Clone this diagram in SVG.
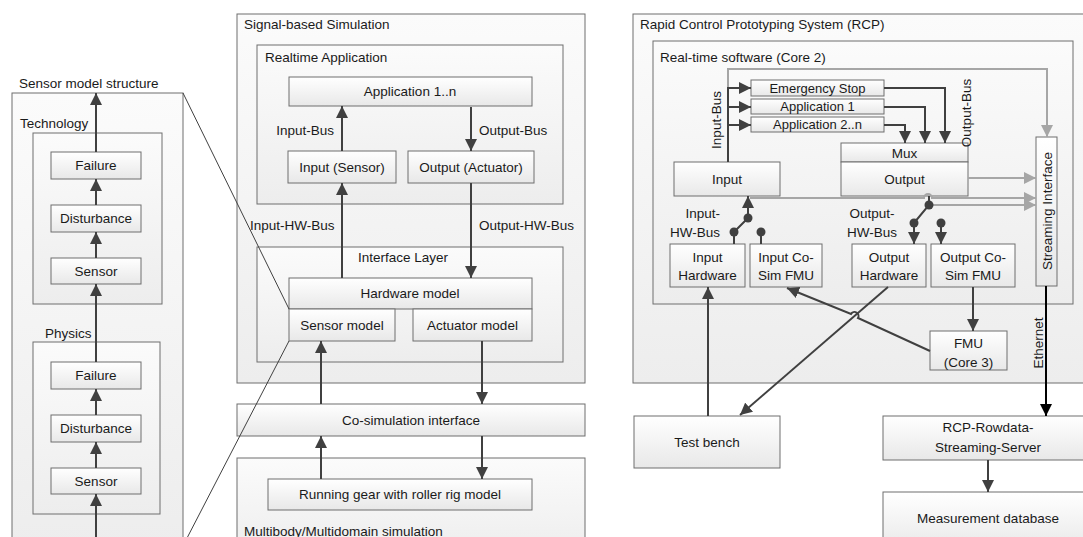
<svg xmlns="http://www.w3.org/2000/svg" width="1083" height="537" viewBox="0 0 1083 537">
<style>
text{font-family:"Liberation Sans",Arial,sans-serif;font-size:13.5px;fill:#1a1a1a}
.c{text-anchor:middle;dominant-baseline:central}
.l{dominant-baseline:central}
.sm{font-size:13px}
.box{fill:url(#gBox);stroke:#6e6e6e;stroke-width:1}
.cont{fill:url(#gCont);stroke:#6e6e6e;stroke-width:1}
.ln{fill:none;stroke:#404040;stroke-width:2}
.thin{fill:none;stroke:#404040;stroke-width:1}
.gr{fill:none;stroke:#a6a6a6;stroke-width:2}
.dot{fill:#404040}
</style>
<defs>
<linearGradient id="gBox" x1="0" y1="0" x2="0" y2="1"><stop offset="0" stop-color="#ffffff"/><stop offset="1" stop-color="#e8e8e8"/></linearGradient>
<linearGradient id="gCont" x1="0" y1="0" x2="0" y2="1"><stop offset="0" stop-color="#fbfbfb"/><stop offset="1" stop-color="#ededed"/></linearGradient>
<marker id="a" markerUnits="userSpaceOnUse" markerWidth="12" markerHeight="12" viewBox="0 0 12 12" refX="12" refY="6" orient="auto"><path d="M0,0 L12,6 L0,12 Z" fill="#404040"/></marker>
<marker id="ag" markerUnits="userSpaceOnUse" markerWidth="12" markerHeight="12" viewBox="0 0 12 12" refX="12" refY="6" orient="auto"><path d="M0,0 L12,6 L0,12 Z" fill="#a6a6a6"/></marker>
<marker id="ak" markerUnits="userSpaceOnUse" markerWidth="12" markerHeight="12" viewBox="0 0 12 12" refX="12" refY="6" orient="auto"><path d="M0,0 L12,6 L0,12 Z" fill="#000"/></marker>
</defs>
<rect width="1083" height="537" fill="#fff"/>

<!-- Left panel: sensor model structure -->
<g id="sensor-model-structure">
<text x="19" y="83" class="l">Sensor model structure</text>
<rect class="cont" x="12" y="93" width="171" height="460"/>
</g>
<g id="technology">
<text x="20" y="123" class="l">Technology</text>
<rect class="cont" x="33" y="133" width="129" height="171"/>
</g>
<g id="tech-failure"><rect class="box" x="51" y="152" width="90" height="27"/><text x="96" y="165.5" class="c">Failure</text></g>
<g id="tech-disturbance"><rect class="box" x="51" y="205" width="90" height="27"/><text x="96" y="218.5" class="c">Disturbance</text></g>
<g id="tech-sensor"><rect class="box" x="51" y="258" width="90" height="26"/><text x="96" y="271" class="c">Sensor</text></g>
<g id="physics">
<text x="45" y="333" class="l">Physics</text>
<rect class="cont" x="33" y="342" width="127" height="172"/>
</g>
<g id="phys-failure"><rect class="box" x="51" y="362" width="90" height="27"/><text x="96" y="375.5" class="c">Failure</text></g>
<g id="phys-disturbance"><rect class="box" x="51" y="415" width="90" height="27"/><text x="96" y="428.5" class="c">Disturbance</text></g>
<g id="phys-sensor"><rect class="box" x="51" y="468" width="90" height="26"/><text x="96" y="481" class="c">Sensor</text></g>

<!-- Middle panel -->
<g id="signal-based-simulation">
<rect class="cont" x="237" y="14" width="348" height="369"/>
<text x="244" y="24" class="l">Signal-based Simulation</text>
</g>
<g id="realtime-application">
<rect class="cont" x="257" y="45" width="306" height="159"/>
<text x="265" y="57" class="l">Realtime Application</text>
</g>
<g id="application-1n"><rect class="box" x="289" y="77" width="243" height="29"/><text x="410" y="91.5" class="c">Application 1..n</text></g>
<g id="input-sensor"><rect class="box" x="288" y="151" width="108" height="32"/><text x="342" y="167" class="c">Input (Sensor)</text></g>
<g id="output-actuator"><rect class="box" x="408" y="151" width="126" height="32"/><text x="471" y="167" class="c">Output (Actuator)</text></g>
<g id="interface-layer">
<rect class="cont" x="257" y="247" width="306" height="115"/>
<text x="403" y="257" class="c">Interface Layer</text>
</g>
<g id="hardware-model"><rect class="box" x="289" y="278" width="243" height="31"/><text x="410" y="293.5" class="c">Hardware model</text></g>
<g id="sensor-model"><rect class="box" x="289" y="309" width="106" height="32"/><text x="342" y="325" class="c">Sensor model</text></g>
<g id="actuator-model"><rect class="box" x="413" y="309" width="119" height="32"/><text x="472.5" y="325" class="c">Actuator model</text></g>
<g id="co-simulation-interface"><rect class="box" x="237" y="404" width="348" height="32"/><text x="411" y="420" class="c">Co-simulation interface</text></g>
<g id="multibody">
<rect class="cont" x="237" y="458" width="348" height="100"/>
<text x="244" y="531" class="l">Multibody/Multidomain simulation</text>
</g>
<g id="running-gear"><rect class="box" x="268" y="479" width="264" height="31"/><text x="400" y="494.5" class="c">Running gear with roller rig model</text></g>

<!-- Right panel -->
<g id="rcp">
<rect class="cont" x="633" y="14" width="460" height="369"/>
<text x="640" y="24" class="l">Rapid Control Prototyping System (RCP)</text>
</g>
<g id="realtime-software">
<rect class="cont" x="653" y="41" width="420" height="263"/>
<text x="660" y="57" class="l">Real-time software (Core 2)</text>
</g>
<g id="emergency-stop"><rect class="box" x="751" y="80" width="133" height="16"/><text x="817.5" y="88" class="c sm">Emergency Stop</text></g>
<g id="application-1"><rect class="box" x="751" y="99" width="133" height="15"/><text x="817.5" y="106.5" class="c sm">Application 1</text></g>
<g id="application-2n"><rect class="box" x="751" y="117" width="133" height="15"/><text x="817.5" y="124.5" class="c sm">Application 2..n</text></g>
<g id="mux"><rect class="box" x="841" y="143" width="127" height="19"/><text x="904.5" y="153" class="c">Mux</text></g>
<g id="output"><rect class="box" x="841" y="162" width="127" height="34"/><text x="904.5" y="179" class="c">Output</text></g>
<g id="input"><rect class="box" x="674" y="162" width="106" height="34"/><text x="727" y="179" class="c">Input</text></g>
<g id="input-hardware"><rect class="box" x="670" y="244" width="75" height="43"/><text x="707.5" y="257" class="c">Input</text><text x="707.5" y="275" class="c">Hardware</text></g>
<g id="input-cosim-fmu"><rect class="box" x="750" y="244" width="72" height="43"/><text x="786" y="257" class="c">Input Co-</text><text x="786" y="275" class="c">Sim FMU</text></g>
<g id="output-hardware"><rect class="box" x="852" y="244" width="74" height="43"/><text x="889" y="257" class="c">Output</text><text x="889" y="275" class="c">Hardware</text></g>
<g id="output-cosim-fmu"><rect class="box" x="931" y="244" width="84" height="43"/><text x="973" y="257" class="c">Output Co-</text><text x="973" y="275" class="c">Sim FMU</text></g>
<g id="streaming-interface"><rect class="box" x="1036" y="137" width="21" height="149"/><text transform="translate(1047,211) rotate(-90)" class="c">Streaming Interface</text></g>
<g id="fmu-core3"><rect class="box" x="930" y="331" width="77" height="39"/><text x="968.5" y="343" class="c">FMU</text><text x="968.5" y="362" class="c">(Core 3)</text></g>
<g id="test-bench"><rect class="box" x="634" y="416" width="146" height="52"/><text x="707" y="442" class="c">Test bench</text></g>
<g id="rowdata-server"><rect class="box" x="883" y="416" width="210" height="44"/><text x="988" y="427" class="c">RCP-Rowdata-</text><text x="988" y="447" class="c">Streaming-Server</text></g>
<g id="measurement-database"><rect class="box" x="883" y="492" width="210" height="60"/><text x="988" y="518" class="c">Measurement database</text></g>

<!-- Connectors -->
<g id="connectors">
<!-- left -->
<path class="ln" d="M96,152 V93" marker-end="url(#a)"/>
<path class="ln" d="M96,205 V179" marker-end="url(#a)"/>
<path class="ln" d="M96,258 V232" marker-end="url(#a)"/>
<path class="ln" d="M96,362 V284" marker-end="url(#a)"/>
<path class="ln" d="M96,415 V389" marker-end="url(#a)"/>
<path class="ln" d="M96,468 V442" marker-end="url(#a)"/>
<path class="ln" d="M96,540 V494" marker-end="url(#a)"/>
<path class="thin" d="M183,93 L289,309"/>
<path class="thin" d="M289,341 L186,540"/>
<!-- middle -->
<path class="ln" d="M342,151 V106" marker-end="url(#a)"/>
<path class="ln" d="M471,107 V151" marker-end="url(#a)"/>
<path class="ln" d="M342,278 V183" marker-end="url(#a)"/>
<path class="ln" d="M471,183 V278" marker-end="url(#a)"/>
<path class="ln" d="M321,404 V341" marker-end="url(#a)"/>
<path class="ln" d="M482,341 V404" marker-end="url(#a)"/>
<path class="ln" d="M321,479 V436" marker-end="url(#a)"/>
<path class="ln" d="M482,436 V479" marker-end="url(#a)"/>
<!-- right: bus to applications -->
<path class="gr" d="M728,88 V69 H1047 V137" marker-end="url(#ag)"/>
<path class="ln" d="M728,162 V87"/>
<path class="ln" d="M728,88 H751" marker-end="url(#a)"/>
<path class="ln" d="M728,107 H751" marker-end="url(#a)"/>
<path class="ln" d="M728,125 H751" marker-end="url(#a)"/>
<path class="ln" d="M884,88 H945 V143" marker-end="url(#a)"/>
<path class="ln" d="M884,107 H925 V143" marker-end="url(#a)"/>
<path class="ln" d="M884,125 H905 V143" marker-end="url(#a)"/>
<!-- streaming gray -->
<path class="gr" d="M968,178 H1036" marker-end="url(#ag)"/>
<path class="gr" d="M750,198 H924 A4,4 0 0 1 932,198 H1036" marker-end="url(#ag)"/>
<path class="gr" d="M929,205 H1036" marker-end="url(#ag)"/>
<!-- input switch -->
<path class="ln" d="M748,218 V196" marker-end="url(#a)"/>
<path class="ln" d="M734,244 V232 L748,218"/>
<circle class="dot" cx="748" cy="218" r="4.5"/>
<circle class="dot" cx="734" cy="232" r="4.5"/>
<path class="ln" d="M761,244 V232"/>
<circle class="dot" cx="761" cy="232" r="4.5"/>
<!-- output switch -->
<path class="ln" d="M929,196 V205 L914,223"/>
<circle class="dot" cx="929" cy="205" r="4.5"/>
<circle class="dot" cx="914" cy="223" r="4.5"/>
<path class="ln" d="M914,223 V244" marker-end="url(#a)"/>
<circle class="dot" cx="941" cy="223" r="4.5"/>
<path class="ln" d="M941,223 V244" marker-end="url(#a)"/>
<!-- lower right -->
<path class="ln" d="M708,416 V287" marker-end="url(#a)"/>
<path class="ln" d="M888,287 L740,415" marker-end="url(#a)"/>
<path class="ln" d="M930,351 L858,318 A4,4 0 0 0 851,314 L787,288" marker-end="url(#a)"/>
<path class="ln" d="M973,287 V331" marker-end="url(#a)"/>
<path d="M1046,286 V416" fill="none" stroke="#000" stroke-width="2" marker-end="url(#ak)"/>
<path class="ln" d="M988,460 V492" marker-end="url(#a)"/>
</g>
<g id="labels">
<text x="334" y="130" class="l" text-anchor="end">Input-Bus</text>
<text x="479" y="130" class="l">Output-Bus</text>
<text x="250" y="225" class="l">Input-HW-Bus</text>
<text x="479" y="225" class="l">Output-HW-Bus</text>
<text transform="translate(716,120) rotate(-90)" class="c">Input-Bus</text>
<text transform="translate(966,113) rotate(-90)" class="c">Output-Bus</text>
<text x="720" y="213" class="l" text-anchor="end">Input-</text>
<text x="720" y="232" class="l" text-anchor="end">HW-Bus</text>
<text x="872" y="213" class="c">Output-</text>
<text x="872" y="232" class="c">HW-Bus</text>
<text transform="translate(1038,343) rotate(-90)" class="c">Ethernet</text>
</g>
</svg>
